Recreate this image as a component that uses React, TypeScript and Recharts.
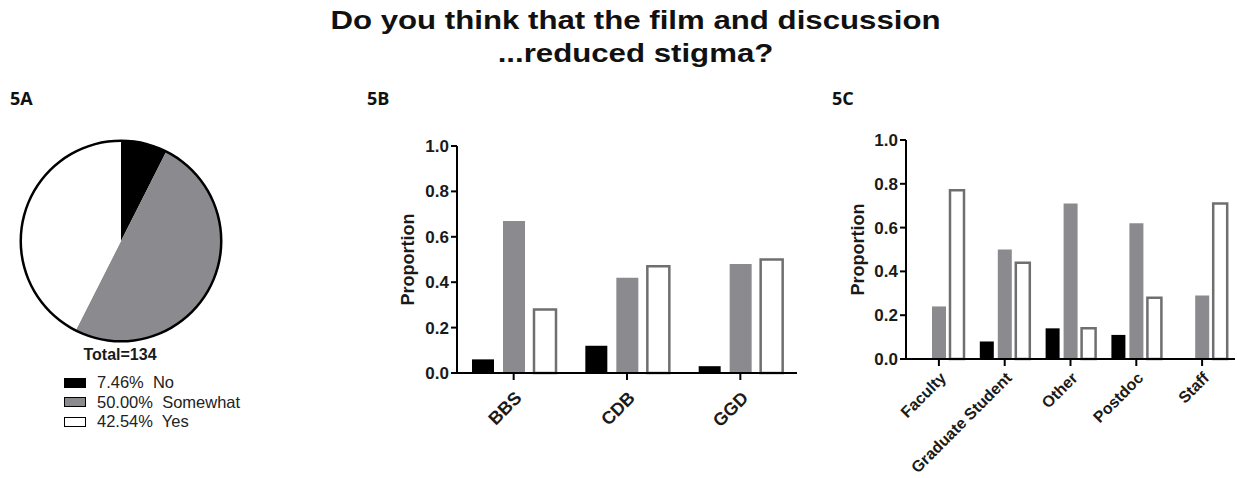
import React from 'react';
import { PieChart, Pie, Cell, BarChart, Bar, XAxis, YAxis } from 'recharts';

// 5A overall answers
const responses = ['No', 'Somewhat', 'Yes'];
const overallPct = [7.46, 50.0, 42.54];
const totalN = 134;

// 5B by program
const programs = ['BBS', 'CDB', 'GGD'];
const programNo = [0.06, 0.12, 0.03];
const programSomewhat = [0.67, 0.42, 0.48];
const programYes = [0.28, 0.47, 0.5];

// 5C by position
const positions = ['Faculty', 'Graduate Student', 'Other', 'Postdoc', 'Staff'];
const positionNo = [0, 0.08, 0.14, 0.11, 0];
const positionSomewhat = [0.24, 0.5, 0.71, 0.62, 0.29];
const positionYes = [0.77, 0.44, 0.14, 0.28, 0.71];

const yTicks = [0, 0.2, 0.4, 0.6, 0.8, 1.0];

const GRAY = '#8b8b8f';
const OUTLINE = '#6f6f6f';
const SANS = '"Liberation Sans", Arial, sans-serif';
const sliceColors = ['#000000', GRAY, '#ffffff'];

const pieData = responses.map((r, i) => ({ name: r, value: overallPct[i] }));
const ringData = [{ name: 'ring', value: 1 }];

const programData = programs.map((p, i) => ({
  name: p,
  No: programNo[i],
  Somewhat: programSomewhat[i],
  Yes: programYes[i],
}));

const positionData = positions.map((p, i) => ({
  name: p,
  No: positionNo[i],
  Somewhat: positionSomewhat[i],
  Yes: positionYes[i],
}));

const tickStyle = { fill: '#1a1a1a', fontSize: 17, fontWeight: 700, fontFamily: SANS };

// rotated "Proportion" title placed inside the y axis area
const proportionLabel = (dx: number) => (props: any) => {
  const vb = props.viewBox || { x: 0, y: 0, width: 0, height: 0 };
  const x = vb.x + dx;
  const y = vb.y + vb.height / 2;
  return (
    <text
      x={x}
      y={y}
      transform={`rotate(-90 ${x} ${y})`}
      textAnchor="middle"
      dominantBaseline="central"
      fill="#1a1a1a"
      fontSize={18}
      fontWeight={700}
      fontFamily={SANS}
    >
      Proportion
    </text>
  );
};

function PanelLabel({ text, left }: { text: string; left: number }) {
  return (
    <div
      style={{
        position: 'absolute',
        left,
        top: 90,
        fontFamily: '"Open Sans", sans-serif',
        fontWeight: 700,
        fontSize: 18,
        lineHeight: '17px',
        color: '#111',
      }}
    >
      {text}
    </div>
  );
}

function ProportionChart({
  data,
  width,
  height,
  yAxisWidth,
  xAxisHeight,
  labelDx,
  barSize,
  barGap,
  tickFont,
  tickMargin,
}: {
  data: any[];
  width: number;
  height: number;
  yAxisWidth: number;
  xAxisHeight: number;
  labelDx: number;
  barSize: number;
  barGap: number;
  tickFont: number;
  tickMargin: number;
}) {
  return (
    <BarChart
      width={width}
      height={height}
      data={data}
      margin={{ top: 16, right: 4, bottom: 0, left: 0 }}
      barSize={barSize}
      barGap={barGap}
    >
      <YAxis
        width={yAxisWidth}
        domain={[0, 1]}
        ticks={yTicks}
        interval={0}
        tickFormatter={(v: number) => v.toFixed(1)}
        axisLine={{ stroke: '#000', strokeWidth: 2 }}
        tickLine={{ stroke: '#000', strokeWidth: 2 }}
        tickSize={6}
        tick={tickStyle}
        label={{ content: proportionLabel(labelDx) }}
      />
      <XAxis
        dataKey="name"
        height={xAxisHeight}
        interval={0}
        axisLine={{ stroke: '#000', strokeWidth: 2 }}
        tickLine={{ stroke: '#000', strokeWidth: 2 }}
        tickSize={7}
        tickMargin={tickMargin}
        tick={{ ...tickStyle, fontSize: tickFont, angle: -45, textAnchor: 'end' }}
      />
      <Bar dataKey="No" fill="#000" isAnimationActive={false} />
      <Bar dataKey="Somewhat" fill={GRAY} isAnimationActive={false} />
      <Bar
        dataKey="Yes"
        fill="#fff"
        stroke={OUTLINE}
        strokeWidth={2.5}
        isAnimationActive={false}
      />
    </BarChart>
  );
}

export default function App() {
  return (
    <div
      style={{
        position: 'absolute',
        left: 0,
        top: 0,
        width: 1237,
        height: 478,
        background: '#fff',
        overflow: 'hidden',
        fontFamily: SANS,
      }}
    >
      {/* title */}
      <div
        style={{
          position: 'absolute',
          left: 17,
          top: 4,
          width: 1237,
          textAlign: 'center',
          fontSize: 26,
          lineHeight: '33px',
          fontWeight: 700,
          color: '#111',
          transform: 'scaleX(1.2)',
        }}
      >
        Do you think that the film and discussion
        <br />
        ...reduced stigma?
      </div>

      <PanelLabel text="5A" left={10} />
      <PanelLabel text="5B" left={367} />
      <PanelLabel text="5C" left={832} />

      {/* 5A pie */}
      <div style={{ position: 'absolute', left: 0, top: 130 }}>
        <PieChart width={242} height={224}>
          <Pie
            data={pieData}
            dataKey="value"
            cx={116}
            cy={106}
            outerRadius={100}
            startAngle={90}
            endAngle={-270}
            stroke="none"
            isAnimationActive={false}
          >
            {pieData.map((d, i) => (
              <Cell key={d.name} fill={sliceColors[i]} />
            ))}
          </Pie>
          <Pie
            data={ringData}
            dataKey="value"
            cx={116}
            cy={106}
            innerRadius={99}
            outerRadius={101.5}
            startAngle={90}
            endAngle={-270}
            fill="#000"
            stroke="none"
            isAnimationActive={false}
          />
        </PieChart>
      </div>
      <div
        style={{
          position: 'absolute',
          left: 0,
          top: 347,
          width: 240,
          textAlign: 'center',
          fontSize: 16,
          lineHeight: '16px',
          fontWeight: 700,
          color: '#1a1a1a',
        }}
      >
        Total={totalN}
      </div>
      <div style={{ position: 'absolute', left: 64, top: 373 }}>
        {responses.map((r, i) => (
          <div
            key={r}
            style={{ display: 'flex', alignItems: 'center', height: 19.5 }}
          >
            <div
              style={{
                width: 20,
                height: 8,
                border: '1.5px solid #000',
                background: sliceColors[i],
              }}
            />
            <span
              style={{
                marginLeft: 11,
                fontSize: 16.5,
                color: '#222',
                whiteSpace: 'pre',
              }}
            >
              {`${overallPct[i].toFixed(2)}%  ${r}`}
            </span>
          </div>
        ))}
      </div>

      {/* 5B by program */}
      <div style={{ position: 'absolute', left: 377, top: 130 }}>
        <ProportionChart
          data={programData}
          width={424}
          height={313}
          yAxisWidth={80}
          xAxisHeight={70}
          labelDx={31}
          barSize={22}
          barGap={9}
          tickFont={18}
          tickMargin={10}
        />
      </div>

      {/* 5C by position */}
      <div style={{ position: 'absolute', left: 836, top: 124 }}>
        <ProportionChart
          data={positionData}
          width={403}
          height={354}
          yAxisWidth={70}
          xAxisHeight={119}
          labelDx={22}
          barSize={14}
          barGap={4}
          tickFont={16}
          tickMargin={5}
        />
      </div>
    </div>
  );
}
